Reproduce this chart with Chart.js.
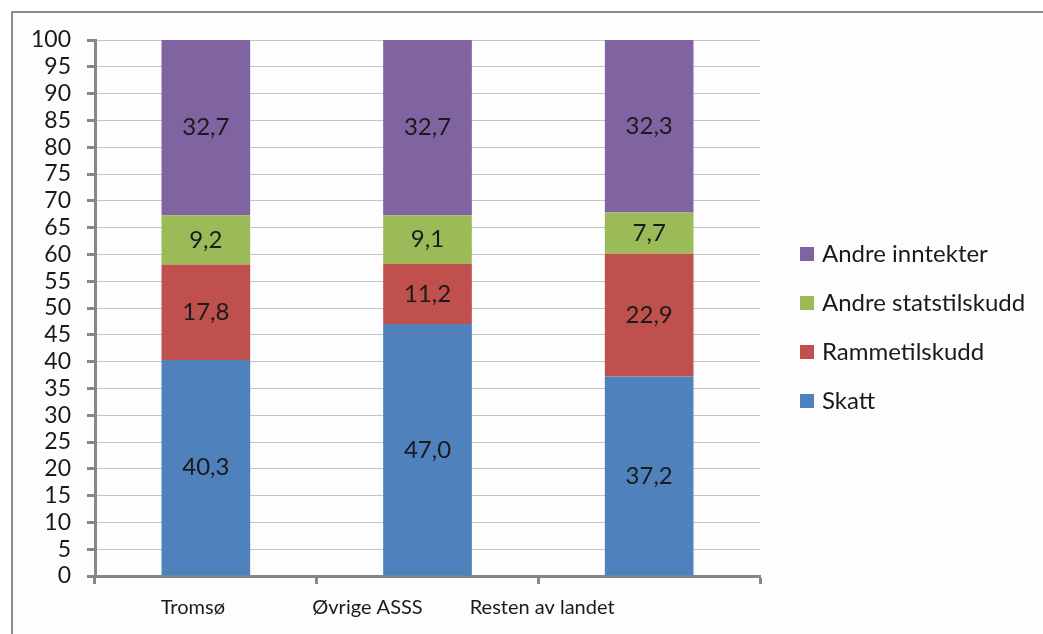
<!DOCTYPE html>
<html>
<head>
<meta charset="utf-8">
<script src="https://cdn.jsdelivr.net/npm/chart.js@4/dist/chart.umd.min.js"></script>
<style>
  html, body { margin: 0; padding: 0; background: #fff; }
  #wrap { position: relative; width: 1043px; height: 634px; overflow: hidden; }
  #frame { position: absolute; left: 11px; top: 11px; width: 1100px; height: 700px;
           border-left: 2px solid #8c8c8c; border-top: 2px solid #8c8c8c; background: #fdfdfd; }
  canvas { position: absolute; left: 0; top: 0; }
</style>
</head>
<body>
<div id="wrap">
  <div id="frame"></div>
  <canvas id="myChart" width="1043" height="634"></canvas>
</div>
<script>
var categories = ["Tromsø", "Øvrige ASSS", "Resten av landet"];
var skatt = [40.3, 47.0, 37.2];
var rammetilskudd = [17.8, 11.2, 22.9];
var andreStatstilskudd = [9.2, 9.1, 7.7];
var andreInntekter = [32.7, 32.7, 32.3];
var yTicks = [0, 5, 10, 15, 20, 25, 30, 35, 40, 45, 50, 55, 60, 65, 70, 75, 80, 85, 90, 95, 100];

var font = "Lato, 'Open Sans', sans-serif";
var axisGray = "#878787";

var data = {
  labels: categories,
  datasets: [
    { label: "Skatt", data: skatt, backgroundColor: "#4f81bd" },
    { label: "Rammetilskudd", data: rammetilskudd, backgroundColor: "#c0504d" },
    { label: "Andre statstilskudd", data: andreStatstilskudd, backgroundColor: "#9bbb59" },
    { label: "Andre inntekter", data: andreInntekter, backgroundColor: "#8064a2" }
  ]
};

// value labels in the middle of each segment
var segmentLabels = {
  id: "segmentLabels",
  afterDatasetsDraw: function (chart) {
    var ctx = chart.ctx;
    ctx.save();
    ctx.font = "24px " + font;
    ctx.fillStyle = "#1a1a1a";
    ctx.textAlign = "center";
    ctx.textBaseline = "middle";
    chart.data.datasets.forEach(function (ds, i) {
      var meta = chart.getDatasetMeta(i);
      meta.data.forEach(function (bar, j) {
        var txt = ds.data[j].toFixed(1).replace(".", ",");
        ctx.fillText(txt, bar.x, (bar.y + bar.base) / 2);
      });
    });
    ctx.restore();
  }
};

// the original's category labels sit left of their bars, more so further right
var shiftXLabels = {
  id: "shiftXLabels",
  beforeDraw: function (chart) {
    var items = chart.scales.x.getLabelItems();
    items.forEach(function (it, i) {
      it.options.translation[0] -= 13 + 47 * i;
    });
  }
};

// legend on the right, top entry is the last series
var sideLegend = {
  id: "sideLegend",
  afterDraw: function (chart) {
    var ctx = chart.ctx;
    var x = 800, y = 254, step = 49;
    ctx.save();
    ctx.font = "24px " + font;
    ctx.textBaseline = "middle";
    ctx.textAlign = "left";
    var sets = chart.data.datasets.slice().reverse();
    sets.forEach(function (ds, i) {
      var cy = y + i * step;
      ctx.fillStyle = ds.backgroundColor;
      ctx.fillRect(x, cy - 7, 14, 14);
      ctx.fillStyle = "#1a1a1a";
      ctx.fillText(ds.label, x + 22, cy);
    });
    ctx.restore();
  }
};

new Chart(document.getElementById("myChart"), {
  type: "bar",
  data: data,
  options: {
    responsive: false,
    animation: false,
    layout: { padding: { top: 40, right: 283, left: 0, bottom: 0 } },
    plugins: { legend: { display: false }, tooltip: { enabled: false } },
    datasets: { bar: { barPercentage: 0.4, categoryPercentage: 1.0 } },
    scales: {
      x: {
        stacked: true,
        grid: { display: true, drawOnChartArea: false, offset: true, tickLength: 8, tickWidth: 3, tickColor: axisGray },
        border: { color: axisGray, width: 3 },
        ticks: { color: "#1a1a1a", font: { size: 20, family: font }, padding: 12 },
        afterFit: function (s) { s.height = 58; }
      },
      y: {
        stacked: true,
        min: 0,
        max: 100,
        afterBuildTicks: function (s) { s.ticks = yTicks.map(function (v) { return { value: v }; }); },
        grid: { color: "#c4c4c4", lineWidth: 1, tickLength: 8, tickWidth: 3, tickColor: axisGray },
        border: { color: axisGray, width: 3 },
        ticks: { color: "#1a1a1a", font: { size: 23, family: font }, padding: 16, autoSkip: false },
        afterFit: function (s) { s.width = 95; }
      }
    }
  },
  plugins: [segmentLabels, shiftXLabels, sideLegend]
});
</script>
</body>
</html>
